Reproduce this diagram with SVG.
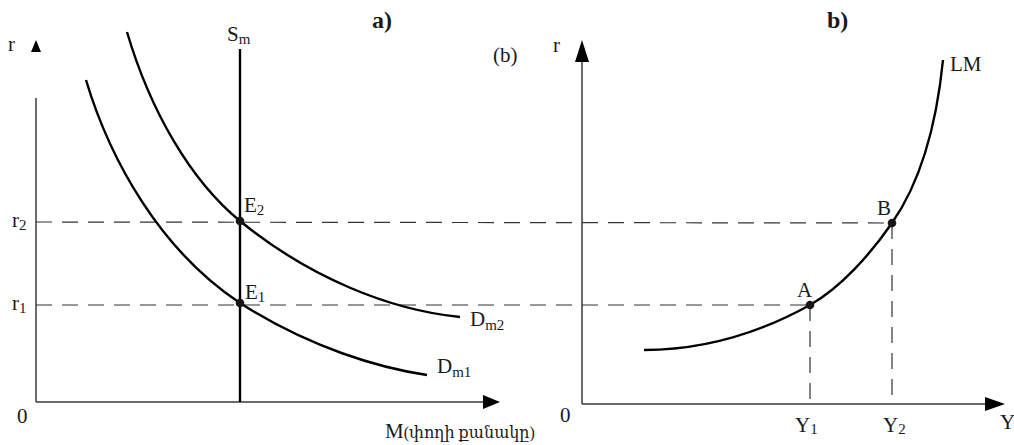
<svg xmlns="http://www.w3.org/2000/svg" width="1014" height="445" viewBox="0 0 1014 445">
<style>
text{font-family:"Liberation Serif","DejaVu Serif",serif;fill:#1a1a1a;font-size:21px}
.b{font-weight:bold;font-size:24px}
.sub{font-size:15px}
.axis{stroke:#3a3a3a;stroke-width:1.5;fill:none}
.curve{stroke:#000;stroke-width:2.4;fill:none}
.dash{stroke:#333;stroke-width:1.2;stroke-dasharray:16 10;fill:none}
.arrow{fill:#000}
.dot{fill:#1a1414}
</style>
<rect width="1014" height="445" fill="#fff"/>
<g id="panel-a-axes">
<line class="axis" x1="36" y1="98" x2="36" y2="402"/>
<polygon class="arrow" points="36,40 31,52 41,52"/>
<line class="axis" x1="36" y1="402" x2="486" y2="402"/>
<polygon class="arrow" points="500,402 483,395 483,409"/>
</g>
<g id="panel-b-axes">
<line class="axis" x1="582" y1="58" x2="582" y2="404"/>
<polygon class="arrow" points="582,40 575,62 589,62"/>
<line class="axis" x1="582" y1="404" x2="990" y2="404"/>
<polygon class="arrow" points="1005,404 985,397 985,411"/>
</g>
<g id="connectors">
<path class="dash" d="M36,222 L892,223"/>
<path class="dash" d="M36,305 L810,305"/>
<path class="dash" d="M810,305 L810,404"/>
<path class="dash" d="M892,223 L892,404"/>
</g>
<g id="Sm">
<line class="curve" x1="240" y1="49" x2="240" y2="402"/>
<text x="227" y="41">S<tspan class="sub" dy="3">m</tspan></text>
</g>
<g id="Dm1">
<path class="curve" d="M86,80 C110,160 160,250 240,303 C310,348 380,368 427,375"/>
<text x="437" y="373">D<tspan class="sub" dy="4">m1</tspan></text>
</g>
<g id="Dm2">
<path class="curve" d="M127,32 C150,110 190,180 240,221 C310,278 390,310 460,317"/>
<text x="470" y="326">D<tspan class="sub" dy="4">m2</tspan></text>
</g>
<g id="LM">
<path class="curve" d="M644,350 C710,350 765,330 810,305 C840,288 870,255 892,223 C915,190 935,140 943,60"/>
<text x="950" y="71">LM</text>
</g>
<g id="E2">
<circle class="dot" cx="240" cy="221" r="4.3"/>
<text x="244" y="212">E<tspan class="sub" dy="3">2</tspan></text>
</g>
<g id="E1">
<circle class="dot" cx="240" cy="303" r="4.3"/>
<text x="245" y="299">E<tspan class="sub" dy="3">1</tspan></text>
</g>
<g id="A">
<circle class="dot" cx="810" cy="305" r="4.3"/>
<text x="797" y="297">A</text>
</g>
<g id="B">
<circle class="dot" cx="892" cy="223" r="4.3"/>
<text x="877" y="215">B</text>
</g>
<g id="labels">
<text class="b" x="372" y="28">a)</text>
<text class="b" x="827" y="28">b)</text>
<text x="493" y="62">(b)</text>
<text x="8" y="51">r</text>
<text x="553" y="52">r</text>
<text x="12" y="227">r<tspan class="sub" dy="3">2</tspan></text>
<text x="12" y="310">r<tspan class="sub" dy="3">1</tspan></text>
<text x="17" y="423">0</text>
<text x="560" y="422">0</text>
<text x="795" y="432">Y<tspan class="sub" dy="2">1</tspan></text>
<text x="883" y="432">Y<tspan class="sub" dy="2">2</tspan></text>
<text x="1000" y="429">Y</text>
<text x="385" y="438">M<tspan font-size="16">(փողի քանակը)</tspan></text>
</g>
</svg>
